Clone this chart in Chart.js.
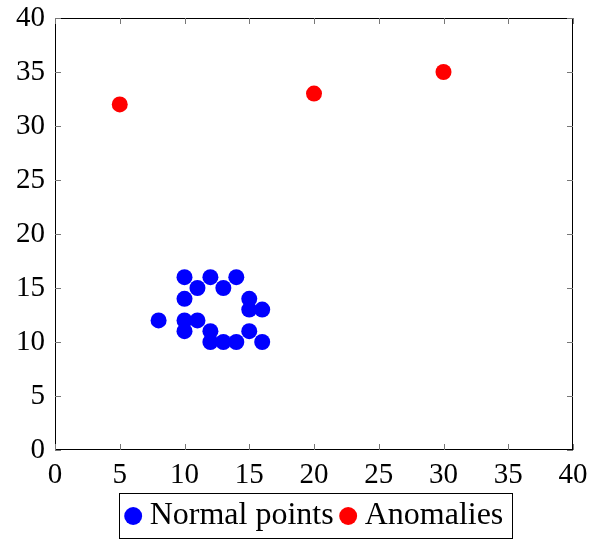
<!DOCTYPE html>
<html>
<head>
<meta charset="utf-8">
<script src="https://cdn.jsdelivr.net/npm/chart.js@4"></script>
<style>
  body { margin: 0; background: #fff; }
  #wrap { width: 590px; height: 539px; }
</style>
</head>
<body>
<div id="wrap"><canvas id="grafico"></canvas></div>
<script>
// dados do gráfico
var normalX = [10, 12, 14, 11, 13, 10, 15, 15, 16, 8, 10, 11, 10, 12, 15, 12, 13, 14, 16];
var normalY = [16, 16, 16, 15, 15, 14, 14, 13, 13, 12, 12, 12, 11, 11, 11, 10, 10, 10, 10];
var anomX = [5, 20, 30];
var anomY = [32, 33, 35];
var tickValues = [0, 5, 10, 15, 20, 25, 30, 35, 40];
var seriesNames = ['Normal points', 'Anomalies'];

function pares(xs, ys) {
  return xs.map(function (x, i) { return { x: x, y: ys[i] }; });
}

var serif = "'Liberation Serif', 'DejaVu Serif', serif";
var legPad = 14;

// moldura e marcas de escala para dentro
var molduraPlugin = {
  id: 'moldura',
  afterLayout: function (chart) {
    var lg = chart.legend;
    var w = lg.right - lg.left;
    var h = lg.bottom - lg.top;
    var c = (chart.chartArea.left + chart.chartArea.right) / 2 + 4;
    lg.left = c - w / 2;
    lg.right = c + w / 2;
    lg.top = 500 - legPad;
    lg.bottom = lg.top + h;
  },
  afterDraw: function (chart) {
    var ctx = chart.ctx;
    var a = chart.chartArea;
    var xs = chart.scales.x, ys = chart.scales.y;
    ctx.save();
    ctx.strokeStyle = '#000';
    ctx.lineWidth = 1;
    ctx.strokeRect(a.left + 0.5, a.top + 0.5, a.right - a.left - 1, a.bottom - a.top - 1);
    ctx.strokeStyle = '#777';
    var len = 6;
    tickValues.forEach(function (v) {
      var px = Math.round(xs.getPixelForValue(v)) + 0.5;
      var py = Math.round(ys.getPixelForValue(v)) + 0.5;
      ctx.beginPath();
      ctx.moveTo(px, a.bottom); ctx.lineTo(px, a.bottom - len);
      ctx.moveTo(px, a.top); ctx.lineTo(px, a.top + len);
      ctx.moveTo(a.left, py); ctx.lineTo(a.left + len, py);
      ctx.moveTo(a.right, py); ctx.lineTo(a.right - len, py);
      ctx.stroke();
    });
    // caixa da legenda
    var boxes = chart.legend.legendHitBoxes;
    if (boxes && boxes.length) {
      var l = Infinity, r = -Infinity, t = Infinity, b = -Infinity;
      boxes.forEach(function (h) {
        l = Math.min(l, h.left); r = Math.max(r, h.left + h.width);
        t = Math.min(t, h.top); b = Math.max(b, h.top + h.height);
      });
      ctx.strokeStyle = '#000';
      ctx.strokeRect(Math.round(l - 14) + 0.5, Math.round(t - 7) + 0.5, Math.round(r - l + 22), Math.round(b - t + 13));
    }
    ctx.restore();
  }
};

var ctx = document.getElementById('grafico').getContext('2d');

var meuGrafico = new Chart(ctx, {
  type: 'scatter',
  data: {
    datasets: [{
      label: seriesNames[0],
      data: pares(normalX, normalY),
      backgroundColor: 'rgb(0, 0, 255)',
      borderWidth: 0,
      pointRadius: 8
    }, {
      label: seriesNames[1],
      data: pares(anomX, anomY),
      backgroundColor: 'rgb(255, 0, 0)',
      borderWidth: 0,
      pointRadius: 8
    }]
  },
  options: {
    responsive: true,
    maintainAspectRatio: false,
    animation: false,
    layout: { padding: { left: 0, right: 17, top: 0, bottom: 0 } },
    plugins: {
      tooltip: { enabled: false },
      legend: {
        position: 'bottom',
        labels: {
          usePointStyle: true,
          pointStyle: 'circle',
          boxWidth: 1,
          boxHeight: 12.7,
          padding: legPad,
          color: '#000',
          font: { family: serif, size: 32 }
        }
      }
    },
    scales: {
      x: {
        type: 'linear',
        min: 0, max: 40,
        afterBuildTicks: function (s) { s.ticks = tickValues.map(function (v) { return { value: v }; }); },
        grid: { display: false },
        border: { display: false },
        ticks: { color: '#000', font: { family: serif, size: 29 }, padding: 0, maxRotation: 0 },
        afterFit: function (s) { s.height = 33; }
      },
      y: {
        type: 'linear',
        min: 0, max: 40,
        afterBuildTicks: function (s) { s.ticks = tickValues.map(function (v) { return { value: v }; }); },
        grid: { display: false },
        border: { display: false },
        ticks: { color: '#000', font: { family: serif, size: 29 }, padding: 2 },
        afterFit: function (s) { s.width = 55; s.paddingTop = 18; s.paddingBottom = 0; }
      }
    }
  },
  plugins: [molduraPlugin]
});
</script>
</body>
</html>
